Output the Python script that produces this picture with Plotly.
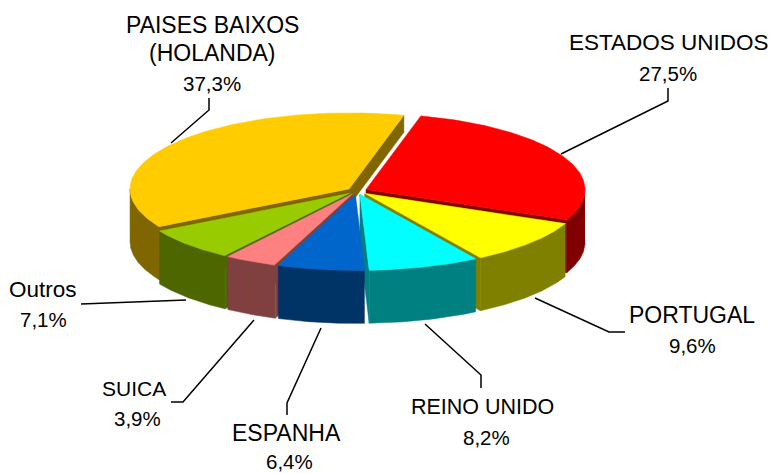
import numpy as np
import plotly.graph_objects as go

# ---- data ----
countries = ["ESTADOS UNIDOS", "PORTUGAL", "REINO UNIDO", "ESPANHA", "SUICA", "Outros", "PAISES BAIXOS (HOLANDA)"]
shares = [27.5, 9.6, 8.2, 6.4, 3.9, 7.1, 37.3]
label_lines = [["ESTADOS UNIDOS"], ["PORTUGAL"], ["REINO UNIDO"], ["ESPANHA"], ["SUICA"], ["Outros"], ["PAISES BAIXOS", "(HOLANDA)"]]

# ---- styles ----
top_colors = ["#FF0000", "#FFFF00", "#00FFFF", "#0066CC", "#FF8080", "#99CC00", "#FFCC00"]
side_colors = ["#800000", "#808000", "#008080", "#003366", "#804040", "#4D6600", "#806600"]
START = 14.5
CX, CY, RX, RY, DEPTH, EXPL = 357, 191, 219, 76, 53, 10
BACK_FACE_DEPTH = 17
label_x = [669, 692, 482, 286, 134, 43, 212]
pct_x = [668, 692, 486, 289, 137, 43, 212]
label_y = [[42, 73], [315, 345], [407, 437], [433, 461], [388, 418], [289, 319], [25, 53, 83]]
name_size = [22.5, 23, 21.5, 23, 21, 22.5, 23]
PCT_SIZE = 20.5
leaders = [
    [(561, 154), (668, 101), (668, 88)],
    [(535, 298), (609, 332), (625, 332)],
    [(425, 324), (481, 375), (481, 388)],
    [(321, 328), (287, 403), (287, 415)],
    [(254, 320), (183, 402), (171, 402)],
    [(186, 300), (93, 304), (81, 304)],
    [(171, 143), (209, 110), (209, 98)],
]
FONT = "Liberation Sans"


def pt(cx, cy, deg):
    r = np.radians(deg)
    return cx + RX * np.sin(r), cy - RY * np.cos(r)


def poly(fig, xs, ys, color):
    fig.add_trace(go.Scatter(x=list(xs), y=list(ys), mode="lines", fill="toself", fillcolor=color,
                             line=dict(width=0.5, color=color), hoverinfo="skip", showlegend=False))


fig = go.Figure()
total = sum(shares)
wedges = []
a = START
for i, v in enumerate(shares):
    b = a + v / total * 360
    m = np.radians((a + b) / 2)
    cx = CX + EXPL * np.sin(m)
    cy = CY - EXPL * (RY / RX) * np.cos(m)
    wedges.append((cy, i, a, b, cx))
    a = b

for cy, i, a, b, cx in sorted(wedges):
    side, top = side_colors[i], top_colors[i]
    for edge, visible in ((b, np.sin(np.radians(b)) > 0), (a, np.sin(np.radians(a)) < 0)):
        if visible:
            d = BACK_FACE_DEPTH if np.cos(np.radians(edge)) > 0 else DEPTH
            ex, ey = pt(cx, cy, edge)
            poly(fig, [cx, ex, ex, cx, cx], [cy, ey, ey + d, cy + d, cy], side)
    for lo, hi in ((a, b), (a - 360, b - 360)):
        l, h = max(lo, 90), min(hi, 270)
        if h > l:
            t = np.linspace(l, h, 60)
            xs, ys = pt(cx, cy, t)
            poly(fig, np.r_[xs, xs[::-1]], np.r_[ys, ys[::-1] + DEPTH], side)
    t = np.linspace(a, b, 120)
    xs, ys = pt(cx, cy, t)
    poly(fig, np.r_[cx, xs, cx], np.r_[cy, ys, cy], top)

for pts in leaders:
    fig.add_trace(go.Scatter(x=[p[0] for p in pts], y=[p[1] for p in pts], mode="lines",
                             line=dict(color="black", width=1.5), hoverinfo="skip", showlegend=False))

for i, lines in enumerate(label_lines):
    texts = lines + [f"{shares[i]:.1f}%".replace(".", ",")]
    for j, (txt, y) in enumerate(zip(texts, label_y[i])):
        is_pct = j == len(lines)
        fig.add_annotation(x=pct_x[i] if is_pct else label_x[i], y=y, text=txt, showarrow=False,
                           xanchor="center", yanchor="middle",
                           font=dict(family=FONT, size=PCT_SIZE if is_pct else name_size[i], color="black"))

fig.update_xaxes(range=[0, 770], visible=False, fixedrange=True)
fig.update_yaxes(range=[473, 0], visible=False, fixedrange=True)
fig.update_layout(width=770, height=473, margin=dict(l=0, r=0, t=0, b=0),
                  paper_bgcolor="white", plot_bgcolor="white", showlegend=False)
fig.write_html("out.html", config=dict(displayModeBar=False),
               post_script="document.body.style.margin='0';document.body.style.overflow='hidden';")
